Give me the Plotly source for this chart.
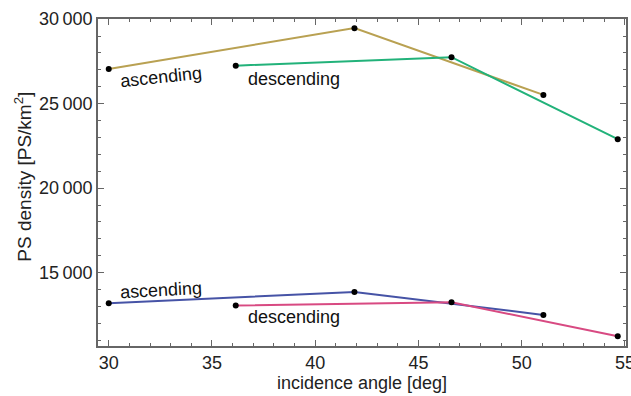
import plotly.graph_objects as go

# Data
asc_top_x = [30.0, 41.9, 51.05]
asc_top_y = [27050, 29470, 25520]
desc_top_x = [36.15, 46.6, 54.65]
desc_top_y = [27250, 27750, 22900]
asc_bot_x = [30.0, 41.9, 51.05]
asc_bot_y = [13190, 13860, 12500]
desc_bot_x = [36.15, 46.6, 54.65]
desc_bot_y = [13050, 13250, 11240]

x_ticks = [30, 35, 40, 45, 50, 55]
y_ticks = [15000, 20000, 25000, 30000]
y_tick_labels = ["15\u2009000", "20\u2009000", "25\u2009000", "30\u2009000"]

labels = ["ascending", "descending", "ascending", "descending"]
label_x = [32.55, 38.95, 32.55, 38.95]
label_y = [26600, 26470, 13990, 12380]
label_angle = [-6, 0, -3, 0]

colors = ["#b9a152", "#22b27a", "#4653a6", "#d84a82"]
FONT = "Liberation Sans, Arial, sans-serif"
FS = 18

fig = go.Figure()
series = [(asc_top_x, asc_top_y), (desc_top_x, desc_top_y),
          (asc_bot_x, asc_bot_y), (desc_bot_x, desc_bot_y)]
for (xs, ys), c in zip(series, colors):
    fig.add_trace(go.Scatter(x=xs, y=ys, mode="lines+markers",
                             line=dict(color=c, width=2),
                             marker=dict(color="black", size=6),
                             showlegend=False, cliponaxis=False))

for t, x, y, a in zip(labels, label_x, label_y, label_angle):
    fig.add_annotation(x=x, y=y, xref="x", yref="y", text=t, showarrow=False,
                       textangle=a, font=dict(family=FONT, size=FS, color="#111"))

# y-axis title as a rotated annotation (sits slightly above the plot centre)
fig.add_annotation(x=-0.142, y=0.518, xref="paper", yref="paper",
                   text="PS density [PS/km<sup>2</sup>]", showarrow=False,
                   textangle=-90, xanchor="center", yanchor="middle",
                   font=dict(family=FONT, size=19, color="#222"))

axis_common = dict(showline=True, linecolor="#666", linewidth=1.5, mirror="allticks",
                   ticks="inside", ticklen=6, tickcolor="#666", showgrid=False,
                   zeroline=False, ticklabeloverflow="allow", automargin=False,
                   tickfont=dict(family=FONT, size=FS, color="#222"))

fig.update_xaxes(range=[29.48, 55.05], tickvals=x_ticks,
                 title=dict(text="incidence angle [deg]", standoff=2,
                            font=dict(family=FONT, size=FS, color="#222")),
                 minor=dict(dtick=1, ticks="inside", ticklen=3, tickcolor="#666"),
                 **axis_common)
fig.update_yaxes(range=[10660, 30010], tickvals=y_ticks, ticktext=y_tick_labels,
                 minor=dict(dtick=1000, ticks="inside", ticklen=3, tickcolor="#666"),
                 **axis_common)

fig.update_layout(width=631, height=396,
                  margin=dict(l=98, r=5, t=19, b=50, autoexpand=False),
                  plot_bgcolor="white", paper_bgcolor="white")
# remove the default 8px page margin so the figure fills the window exactly
fig.write_html("out.html", config={"displayModeBar": False},
               post_script="document.body.style.margin='0';document.body.style.overflow='hidden';")
